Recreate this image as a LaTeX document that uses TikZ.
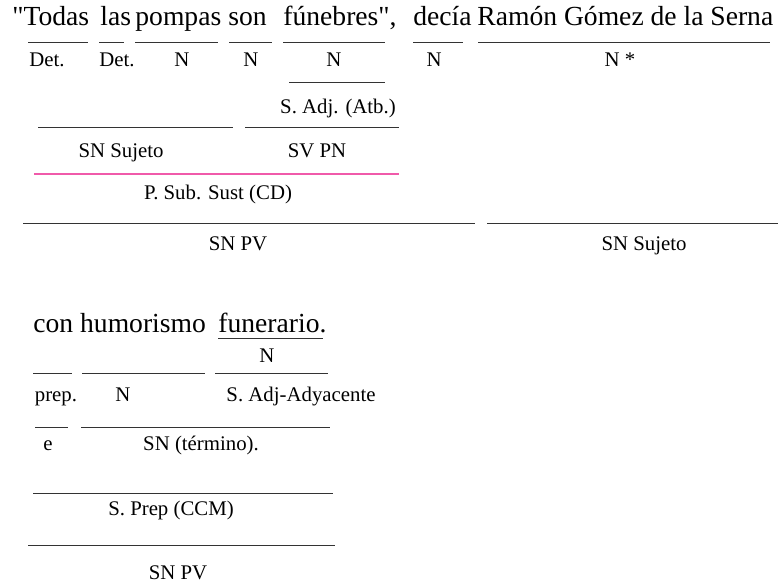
\documentclass[tikz,border=0pt]{standalone}
\usepackage{fontspec}
\setmainfont{Liberation Serif}[Ligatures=TeXOff]
\definecolor{rosa}{RGB}{240,90,170}
\tikzset{
  frase/.style={font=\fontsize{13.8}{16}\selectfont, inner sep=0pt, anchor=base west},
  etiq/.style={font=\fontsize{10.4}{12}\selectfont, inner sep=0pt, anchor=base},
  raya/.style={line width=0.5pt, black!80},
}
\begin{document}
\begin{tikzpicture}[x=0.5pt,y=-0.5pt]
  \useasboundingbox (0,0) rectangle (779,582);
  % primera frase
  \node[frase] (todas) at (12,26) {"Todas};
  \node[frase] (las) at (100,26) {las};
  \node[frase] (pompas) at (135,26) {pompas};
  \node[frase] (son) at (228,26) {son};
  \node[frase] (funebres) at (283,26) {fúnebres",};
  \node[frase] (decia) at (413,26) {decía};
  \node[frase] (ramon) at (477,26) {Ramón Gómez de la Serna};
  \foreach \a/\b in {28/88, 99/124, 135/218, 229/272, 283/385, 413/463, 478/770}
    \draw[raya] (\a,43) -- (\b,43);
  \node[etiq] (det1) at (47,67) {Det.};
  \node[etiq] (det2) at (117,67) {Det.};
  \node[etiq] (n1) at (182,67) {N};
  \node[etiq] (n2) at (251,67) {N};
  \node[etiq] (n3) at (334,67) {N};
  \node[etiq] (n4) at (434,67) {N};
  \node[etiq] (n5) at (620,67) {N *};
  \draw[raya] (289,83) -- (385,83);
  \node[etiq] (sadj) at (338,114) {S. Adj. (Atb.)};
  \draw[raya] (38,128) -- (233,128);
  \draw[raya] (245,128) -- (399,128);
  \node[etiq] (snsuj1) at (121,158) {SN Sujeto};
  \node[etiq] (svpn) at (317,158) {SV PN};
  \draw[line width=0.6pt, rosa] (34,174) -- (399,174);
  \node[etiq] (psub) at (218,200) {P. Sub. Sust (CD)};
  \draw[raya] (23,224) -- (475,224);
  \draw[raya] (487,224) -- (778,224);
  \node[etiq] (snpv1) at (238,250) {SN PV};
  \node[etiq] (snsuj2) at (644,250) {SN Sujeto};
  % segunda frase
  \node[frase] (con) at (33,332) {con humorismo};
  \node[frase] (funerario) at (218,332) {funerario.};
  \draw[raya] (218,338) -- (323,338);
  \node[etiq] (n6) at (267,362) {N};
  \foreach \a/\b in {33/72, 82/205, 215/328}
    \draw[raya] (\a,373) -- (\b,373);
  \node[etiq] (prep) at (56,401) {prep.};
  \node[etiq] (n7) at (123,401) {N};
  \node[etiq] (sadjady) at (301,401) {S. Adj-Adyacente};
  \draw[raya] (35,427) -- (68,427);
  \draw[raya] (81,427) -- (330,427);
  \node[etiq] (e) at (48,450) {e};
  \node[etiq] (sntermino) at (201,450) {SN (término).};
  \draw[raya] (33,493) -- (333,493);
  \node[etiq] (sprep) at (171,515) {S. Prep (CCM)};
  \draw[raya] (28,545) -- (335,545);
  \node[etiq] (snpv2) at (178,579) {SN PV};
\end{tikzpicture}
\end{document}
